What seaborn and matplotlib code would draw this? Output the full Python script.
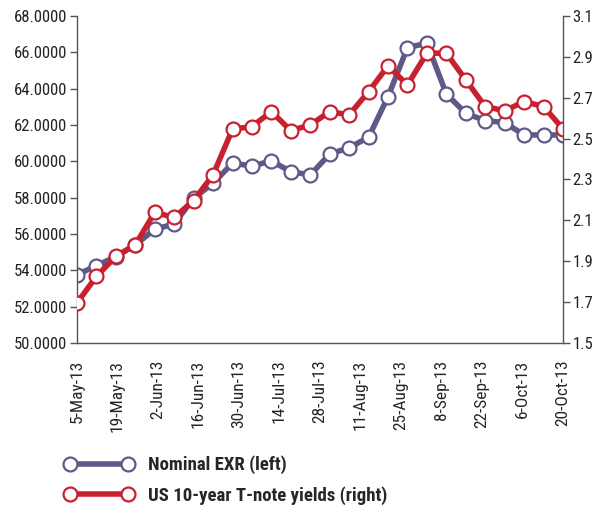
import numpy as np
import matplotlib
matplotlib.use("Agg")
import matplotlib.pyplot as plt
import pandas as pd
import seaborn as sns
from matplotlib.lines import Line2D

# weekly observations, 5-May-13 onwards
week = list(range(26))
exr = [53.75, 54.26, 54.75, 55.40, 56.26, 56.55, 57.97, 58.79, 59.90, 59.74,
       60.02, 59.43, 59.25, 60.40, 60.75, 61.32, 63.56, 66.26, 66.50, 63.71,
       62.64, 62.24, 62.13, 61.45, 61.45, 61.45]
yields = [1.696, 1.826, 1.924, 1.981, 2.139, 2.114, 2.197, 2.323, 2.546, 2.559,
          2.632, 2.539, 2.567, 2.632, 2.616, 2.730, 2.856, 2.763, 2.918, 2.918,
          2.787, 2.657, 2.636, 2.681, 2.657, 2.548]
date_labels = ["5-May-13", "19-May-13", "2-Jun-13", "16-Jun-13", "30-Jun-13",
               "14-Jul-13", "28-Jul-13", "11-Aug-13", "25-Aug-13", "8-Sep-13",
               "22-Sep-13", "6-Oct-13", "20-Oct-13"]

df = pd.DataFrame({"week": week, "exr": exr, "yld": yields})

sns.set_style("white")
plt.rcParams["font.family"] = ["Roboto Condensed", "Liberation Sans", "DejaVu Sans"]

purple = "#5d5a8a"
red = "#c8202f"
grey = "#555555"

fig = plt.figure(figsize=(5.97, 5.07), dpi=100)
ax = fig.add_axes([0.129, 0.3235, 0.814, 0.645])
ax2 = ax.twinx()

mk = dict(marker="o", markersize=10, markerfacecolor="white", markeredgewidth=1.6,
          linewidth=4)
sns.lineplot(data=df, x="week", y="exr", ax=ax, color=purple, markeredgecolor=purple, **mk)
sns.lineplot(data=df, x="week", y="yld", ax=ax2, color=red, markeredgecolor=red, **mk)
ax2.set_zorder(ax.get_zorder() + 1)
ax2.patch.set_visible(False)

ax.set_xlim(0, 25)
ax.set_ylim(50, 68)
ax2.set_ylim(1.5, 3.1)
ax.set_yticks(np.arange(50, 68.1, 2))
ax.set_yticklabels([f"{v:.4f}" for v in np.arange(50, 68.1, 2)])
ax2.set_yticks(np.arange(1.5, 3.11, 0.2))
ax2.set_yticklabels([f"{v:.1f}" for v in np.arange(1.5, 3.11, 0.2)])

# tick marks every two weeks, labels spread over the full span
ax.xaxis.remove_overlapping_locs = False
ax.set_xticks(range(0, 25, 2))
ax.set_xticklabels([])
ax.set_xticks(np.linspace(0, 25, 13), minor=True)
ax.set_xticklabels(date_labels, minor=True, rotation=90)
ax.tick_params(axis="x", which="minor", length=0, pad=12, labelsize=12.5)
ax.tick_params(axis="x", which="major", length=5, width=1, color=grey, direction="out")
ax.tick_params(axis="y", length=5, width=1, color=grey, labelsize=12, pad=2)
ax2.tick_params(axis="y", length=5, width=1, color=grey, labelsize=12, pad=2)
for t in ax.get_xticklabels(minor=True):
    t.set_verticalalignment("top")

for a in (ax, ax2):
    a.set_xlabel("")
    a.set_ylabel("")
    a.spines["top"].set_visible(False)
    for s in ("left", "right", "bottom"):
        a.spines[s].set_color(grey)
        a.spines[s].set_linewidth(1)
    a.tick_params(labelcolor="#222222")
ax.spines["right"].set_visible(False)
ax2.spines["left"].set_visible(False)
ax2.spines["bottom"].set_visible(False)

handles = [
    Line2D([0], [0], color=purple, markeredgecolor=purple, **mk),
    Line2D([0], [0], color=red, markeredgecolor=red, **mk),
]
fig.legend(handles, ["Nominal EXR (left)", "US 10-year T-note yields (right)"],
           loc="upper left", bbox_to_anchor=(0.08, 0.135), frameon=False,
           handlelength=3.7, handletextpad=0.75, labelspacing=0.62,
           prop={"weight": "bold", "size": 13.5}, numpoints=2)

fig.savefig("out.png", dpi=100)
